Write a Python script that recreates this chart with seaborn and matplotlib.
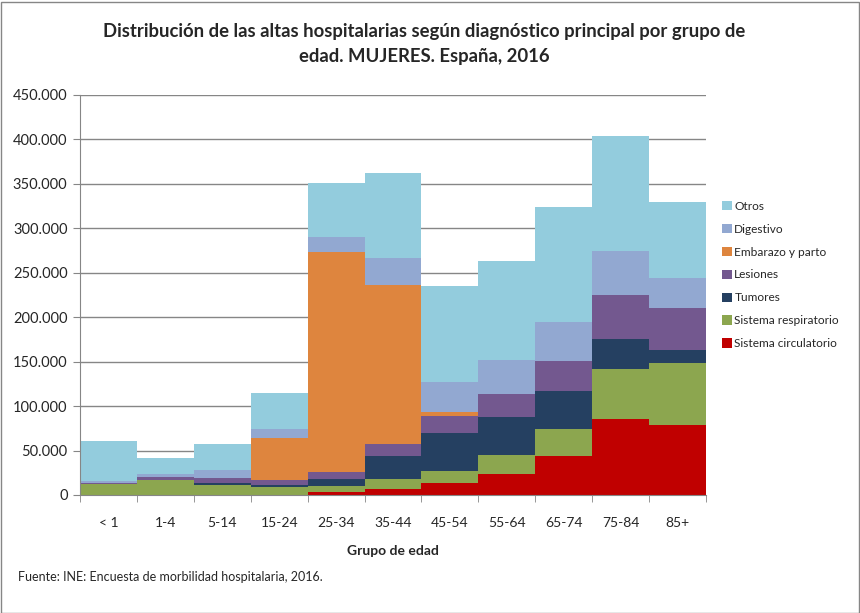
import seaborn as sns
import matplotlib.pyplot as plt
import pandas as pd
import numpy as np
from matplotlib.patches import Patch, Rectangle
from matplotlib.ticker import FuncFormatter, FixedLocator

# Age groups and discharges by main diagnosis (women, Spain 2016)
grupos = ["< 1", "1-4", "5-14", "15-24", "25-34", "35-44", "45-54", "55-64", "65-74", "75-84", "85+"]
circulatorio = [300, 200, 300, 500, 3000, 7100, 13900, 23600, 43900, 85500, 79100]
respiratorio = [12000, 16500, 11000, 8000, 7100, 10900, 13500, 21400, 30700, 55900, 69400]
tumores = [500, 700, 2500, 2700, 7900, 25900, 42000, 43100, 42800, 34100, 14600]
lesiones = [1000, 2500, 5700, 5700, 7900, 13500, 19800, 25500, 33700, 49500, 47300]
embarazo = [0, 0, 0, 47600, 247500, 178850, 3800, 0, 0, 0, 0]
digestivo = [1500, 3500, 8600, 9700, 16500, 30350, 34500, 38300, 43900, 49500, 34100]
otros = [45700, 18600, 29600, 40800, 60700, 95300, 107600, 111350, 128600, 129400, 85100]

# bottom to top
series = {
    "Sistema circulatorio": (circulatorio, "#C00000"),
    "Sistema respiratorio": (respiratorio, "#8CA64F"),
    "Tumores": (tumores, "#254061"),
    "Lesiones": (lesiones, "#73588F"),
    "Embarazo y parto": (embarazo, "#DE853E"),
    "Digestivo": (digestivo, "#92A8D1"),
    "Otros": (otros, "#93CCDD"),
}

df = pd.DataFrame({k: v[0] for k, v in series.items()}, index=grupos)
cum = df.cumsum(axis=1)

sns.set_style("white")
plt.rcParams["font.family"] = ["Lato", "DejaVu Sans"]

fig = plt.figure(figsize=(8.6, 6.13), dpi=100)
ax = fig.add_axes([80 / 860, 118 / 613, 626 / 860, 400 / 613])

# draw cumulative totals from the top layer down so each layer overlaps the next
for name in reversed(list(series.keys())):
    sns.barplot(x=grupos, y=cum[name].values, color=series[name][1],
                width=1.0, linewidth=0, saturation=1, ax=ax, zorder=2)

ax.set_ylim(0, 450000)
ax.set_xlim(-0.5, len(grupos) - 0.5)
ax.yaxis.set_major_locator(FixedLocator(np.arange(0, 450001, 50000)))
ax.yaxis.set_major_formatter(FuncFormatter(lambda v, p: f"{int(v):,}".replace(",", ".")))
ax.grid(axis="y", color="#868686", linewidth=1)
ax.set_axisbelow(True)

for s in ["top", "right"]:
    ax.spines[s].set_visible(False)
for s in ["left", "bottom"]:
    ax.spines[s].set_color("#868686")
    ax.spines[s].set_zorder(3)

ax.tick_params(axis="y", left=True, length=5, color="#868686", labelsize=10.5, pad=4)
ax.tick_params(axis="x", bottom=False, labelsize=10, pad=12)
ax.set_xticks(range(len(grupos)))
ax.set_xticklabels(grupos)
ax.set_xticks(np.arange(-0.5, len(grupos)), minor=True)
ax.tick_params(axis="x", which="minor", bottom=True, length=5, color="#868686")

ax.set_xlabel("Grupo de edad", fontsize=10, fontweight="bold", labelpad=12)
ax.set_ylabel("")

fig.text(424 / 860, 1 - 44 / 613,
         "Distribución de las altas hospitalarias según diagnóstico principal por grupo de\nedad. MUJERES. España, 2016",
         ha="center", va="center", fontsize=13.3, fontweight="bold", linespacing=1.6)

fig.text(18 / 860, 1 - 577 / 613, "Fuente: INE: Encuesta de morbilidad hospitalaria, 2016.",
         ha="left", va="center", fontsize=9)

handles = [Patch(facecolor=series[n][1], edgecolor="none", label=n) for n in reversed(list(series.keys()))]
fig.legend(handles=handles, loc="center left", bbox_to_anchor=(711 / 860, 1 - 275 / 613),
           frameon=False, fontsize=8.6, handlelength=0.85, handleheight=0.85,
           handletextpad=0.2, labelspacing=1.0)

fig.add_artist(Rectangle((0.5 / 860, 0.5 / 613), 858 / 860, 611 / 613, transform=fig.transFigure,
                         fill=False, edgecolor="#868686", linewidth=1))

plt.savefig("out.png", dpi=100)
